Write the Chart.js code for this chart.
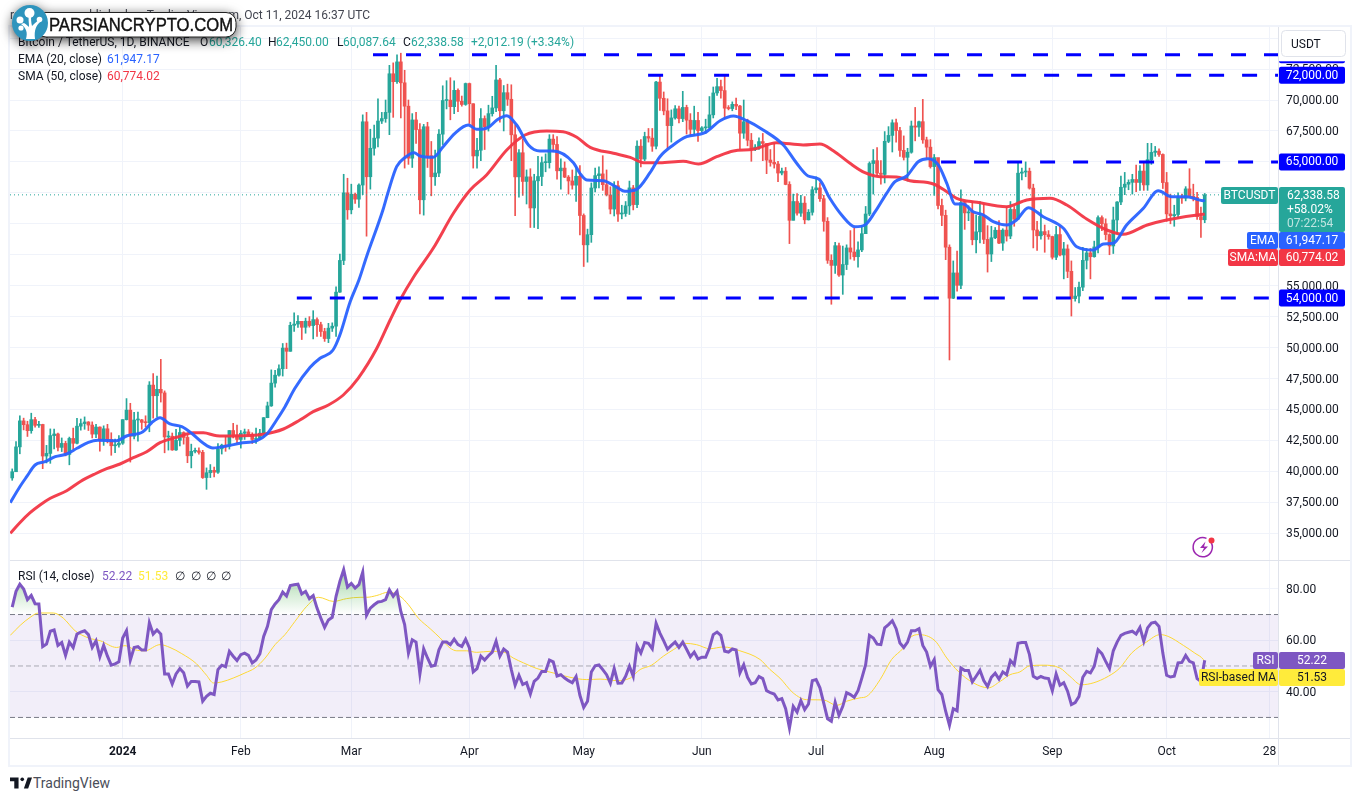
<!DOCTYPE html>
<html>
<head>
<meta charset="utf-8">
<title>BTCUSDT 1D</title>
<script src="https://cdn.jsdelivr.net/npm/chart.js@4"></script>
<style>
html, body { margin: 0; padding: 0; background: #ffffff; width: 1360px; height: 801px; overflow: hidden; }
body { font-family: Roboto, sans-serif; font-size: 12px; color: #131722; }
canvas { position: absolute; left: 0; }
#price_canvas { top: 0; }
#rsi_canvas { top: 560px; }
.line { position: absolute; background: #e0e3eb; }
.frame { position: absolute; background: #f0f3fa; }
.txt { position: absolute; white-space: nowrap; line-height: 14px; }
svg { position: absolute; }
</style>
</head>
<body>
<canvas id="price_canvas" width="1360" height="560"></canvas>
<canvas id="rsi_canvas" width="1360" height="206"></canvas>

<div class="frame" style="left:8px;top:26px;width:2px;height:741px"></div>
<div class="frame" style="left:1350px;top:26px;width:2px;height:741px"></div>
<div class="frame" style="left:8px;top:25px;width:1344px;height:2px"></div>
<div class="frame" style="left:8px;top:765px;width:1344px;height:2px"></div>
<div class="line" style="left:10px;top:560px;width:1340px;height:1px"></div>
<div class="line" style="left:10px;top:738px;width:1340px;height:1px"></div>
<div class="line" style="left:1278px;top:27px;width:1px;height:738px"></div>

<div class="txt" style="left:10px;top:8px;color:#434651">rakesh</div>
<div class="txt" style="right:990px;top:8px;color:#434651">published on TradingView.com, Oct 11, 2024 16:37 UTC</div>

<div class="txt" style="left:18px;top:35px">Bitcoin / TetherUS, 1D, BINANCE</div>
<div class="txt" style="left:200px;top:35px">O</div><div class="txt" style="left:209px;top:35px;color:#26a69a">60,326.40</div>
<div class="txt" style="left:268px;top:35px">H</div><div class="txt" style="left:276px;top:35px;color:#26a69a">62,450.00</div>
<div class="txt" style="left:337px;top:35px">L</div><div class="txt" style="left:343px;top:35px;color:#26a69a">60,087.64</div>
<div class="txt" style="left:403px;top:35px">C</div><div class="txt" style="left:411px;top:35px;color:#26a69a">62,338.58</div>
<div class="txt" style="left:471px;top:35px;color:#26a69a">+2,012.19 (+3.34%)</div>
<div class="txt" style="left:18px;top:52px">EMA (20, close)</div>
<div class="txt" style="left:107px;top:52px;color:#2962ff">61,947.17</div>
<div class="txt" style="left:18px;top:69px">SMA (50, close)</div>
<div class="txt" style="left:107px;top:69px;color:#f23645">60,774.02</div>

<div class="txt" style="left:18px;top:569px">RSI (14, close)</div>
<div class="txt" style="left:102px;top:569px;color:#7e57c2">52.22</div>
<div class="txt" style="left:138px;top:569px;color:#ffeb3b">51.53</div>
<div class="txt" style="left:175px;top:569px">∅</div>
<div class="txt" style="left:191px;top:569px">∅</div>
<div class="txt" style="left:206px;top:569px">∅</div>
<div class="txt" style="left:221px;top:569px">∅</div>

<!-- watermark -->
<svg style="left:0;top:0;filter:drop-shadow(0 3px 6px rgba(0,0,0,.75))" width="270" height="70">
  <rect x="36" y="12.5" width="200" height="24.5" rx="10" fill="#ffffff" stroke="#222222" stroke-width="1"/>
  <text x="49" y="31" font-family="Liberation Sans" font-size="18" font-weight="400" stroke="#111" stroke-width=".4" fill="#111111" textLength="184" lengthAdjust="spacingAndGlyphs">PARSIANCRYPTO.COM</text>
  <circle cx="30" cy="23" r="18" fill="#2e94bd"/>
  <path d="M26 39 C28 32 26 28 21 24 L24 23 C27 25 28 26 29 27 C29 22 28 19 29 15 L31 15 C31 19 31 22 32 26 C34 24 36 22 39 20 L40 22 C36 26 34 30 35 39 Z" fill="#ffffff"/>
  <circle cx="29.5" cy="13" r="5" fill="#ffffff"/>
  <circle cx="20" cy="20" r="3.5" fill="#ffffff"/>
  <circle cx="39.5" cy="19.5" r="2.8" fill="#ffffff"/>
  <circle cx="21" cy="28" r="2.6" fill="#ffffff"/>
</svg>

<!-- lightning badge -->
<svg style="left:1190px;top:534px" width="30" height="28">
  <path d="M21.2 8.7 A9.6 9.6 0 1 1 16.5 4.4" fill="none" stroke="#9c27b0" stroke-width="1.5"/>
  <path d="M15.5 7.5 L10 14 L14 14 L11.5 19 L18 12.5 L14 12.5 Z" fill="#9c27b0"/>
  <circle cx="21.5" cy="6.5" r="3" fill="#f23645"/>
</svg>

<!-- tradingview mark -->
<svg style="left:10px;top:776px" width="22" height="14" viewBox="0 0 36 22">
  <path d="M14 2H0v6h7v12h7V2Z" fill="#131722"/><circle cx="20" cy="5" r="3" fill="#131722"/>
  <path d="M29.7 20 36 2h-7l-6.3 18h7Z" fill="#131722"/>
</svg>
<div class="txt" style="left:33px;top:776px;font-size:14px;color:#4a4e59">TradingView</div>

<script>
// first candle is Dec 3 2023, day numbers count from Jan 1 2024
var first_day = -29;

var opens = [
    39470,39970,41980,44080,43770,43290,44180,43720,43790,41240,41450,42890,43020,41940,42260,41370,42660,42270,43650,43860,43990,43740,43010,43580,42510,43440,42580,42070,42140,
    42280,44180,44950,42840,44150,44160,43960,43930,46970,46110,46630,46340,42780,42840,41730,42510,43140,42740,41260,41620,41660,41540,39500,39890,40080,39930,41820,42120,42030,43300,42940,
    42580,43080,43190,42990,42580,42660,43090,44340,45290,47130,47770,48290,49960,49700,51800,51900,52120,51640,52130,51780,52260,51850,51300,50730,51570,51730,54480,57040,62500,
    61130,62390,61990,63130,68240,63800,66100,66920,68300,68500,69000,72120,71480,73080,71390,69500,65300,68390,67610,61940,67840,65500,63800,64100,67240,69960,69990,69460,70780,69900,69640,
    71330,69700,65480,65940,68500,67840,68900,69360,71620,69130,70590,70060,67190,63790,65740,63420,63790,61280,63470,63820,64940,64940,66840,66410,64280,64500,63770,63460,63120,63840,
    60670,58300,59120,62890,63890,64030,63160,62330,61190,63070,60790,60830,61450,62900,61550,66270,65230,67050,66920,66270,71450,70140,69120,67930,68550,69290,68500,69400,68370,67630,68350,
    67530,67750,67760,68800,70570,71080,70760,69340,69310,69650,69510,67320,68240,66750,66010,66190,66640,66490,65150,64960,64830,64100,64250,63180,60280,61800,60860,61670,60320,60930,
    62750,62900,62030,60200,57050,56640,58230,55860,56710,58050,57720,57340,57890,59200,60790,64870,65100,64090,63990,66660,67140,68160,67530,65930,65370,65780,67900,67810,68250,66780,66190,
    64620,65350,61480,60680,58110,53990,56030,55030,61710,60880,60940,58710,59350,60600,58740,57560,58870,59480,58440,59490,59010,61160,60380,64090,64180,64250,62880,59500,59030,59370,59120,
    58970,57300,59130,57480,57970,56160,53960,54160,54880,57050,57650,57340,58130,60500,60000,59130,58210,60310,61760,62950,63200,63350,63580,63340,64260,63140,65180,65770,65870,65600,
    63330,60800,60650,60750,62080,62070,62820,62220,62130,60580,60326.40
];
var closes = [
    39970,41980,44080,43770,43290,44180,43720,43790,41240,41450,42890,43020,41940,42260,41370,42660,42270,43650,43860,43990,43740,43010,43580,42510,43440,42580,42070,42140,42280,
    44180,44950,42840,44150,44160,43960,43930,46970,46110,46630,46340,42780,42840,41730,42510,43140,42740,41260,41620,41660,41540,39500,39890,40080,39930,41820,42120,42030,43300,42940,42580,
    43080,43190,42990,42580,42660,43090,44340,45290,47130,47770,48290,49960,49700,51800,51900,52120,51640,52130,51780,52260,51850,51300,50730,51570,51730,54480,57040,62500,61130,
    62390,61990,63130,68240,63800,66100,66920,68300,68500,69000,72120,71480,73080,71390,69500,65300,68390,67610,61940,67840,65500,63800,64100,67240,69960,69990,69460,70780,69900,69640,71330,
    69700,65480,65940,68500,67840,68900,69360,71620,69130,70590,70060,67190,63790,65740,63420,63790,61280,63470,63820,64940,64940,66840,66410,64280,64500,63770,63460,63120,63840,60670,
    58300,59120,62890,63890,64030,63160,62330,61190,63070,60790,60830,61450,62900,61550,66270,65230,67050,66920,66270,71450,70140,69120,67930,68550,69290,68500,69400,68370,67630,68350,67530,
    67750,67760,68800,70570,71080,70760,69340,69310,69650,69510,67320,68240,66750,66010,66190,66640,66490,65150,64960,64830,64100,64250,63180,60280,61800,60860,61670,60320,60930,62750,
    62900,62030,60200,57050,56640,58230,55860,56710,58050,57720,57340,57890,59200,60790,64870,65100,64090,63990,66660,67140,68160,67530,65930,65370,65780,67900,67810,68250,66780,66190,64620,
    65350,61480,60680,58110,53990,56030,55030,61710,60880,60940,58710,59350,60600,58740,57560,58870,59480,58440,59490,59010,61160,60380,64090,64180,64250,62880,59500,59030,59370,59120,58970,
    57300,59130,57480,57970,56160,53960,54160,54880,57050,57650,57340,58130,60500,60000,59130,58210,60310,61760,62950,63200,63350,63580,63340,64260,63140,65180,65770,65870,65600,63330,
    60800,60650,60750,62080,62070,62820,62220,62130,60580,60326.40,62338.58
];
var highs = [
    40200,42400,44490,44300,44050,44700,44370,44050,43810,42100,43430,43420,43090,42700,42430,42770,43500,44280,44230,44400,44020,44000,43800,43600,43680,43800,43120,42600,42900,
    44180,45880,45500,44770,44800,44200,44490,47250,47900,47700,49050,46500,43250,43100,43400,43600,43200,42930,42200,41880,41900,41700,40280,40550,40350,42250,42200,42850,43300,43880,43750,
    43300,43420,43380,43120,43500,43400,44350,45600,48200,48170,48600,50330,50360,52050,52800,52580,52000,52380,52500,52980,52400,52050,51560,51960,52000,54900,57560,64000,63680,
    63200,62480,63230,68800,69000,67640,67980,70100,69000,70000,72800,73000,73650,73780,72400,70000,68900,69000,68100,68030,68200,66650,65950,67620,71150,71560,71800,71550,70900,70320,71370,
    71370,69700,66900,69300,68720,69580,70300,72800,71750,71170,71280,71230,68000,66000,66850,64350,64450,64000,65450,65400,65650,67200,67200,67050,65250,65000,63900,64350,64600,64700,
    60800,59570,63300,64500,64600,65500,64350,62990,63400,63450,61500,61800,63450,63100,66700,66800,67400,67700,67700,71500,71950,70650,70100,69200,69550,69500,70700,69580,68900,69500,69000,
    67850,68450,70280,71050,71760,71600,71950,69550,69850,70150,69560,70000,68450,67300,66400,66950,67300,65700,66000,66500,65050,64500,64550,63400,62400,62450,62300,62200,61150,63000,
    63800,63300,62300,60500,57500,58500,58450,58200,58300,59450,59650,58550,59850,61400,65000,66000,66150,65100,67450,67850,68400,68450,67800,67100,66100,68300,69400,68300,70050,67000,66800,
    65600,65000,62000,61100,58300,57000,57800,62750,61800,61450,61800,60700,61800,61600,59850,59800,59700,60250,59600,61400,61800,61400,64950,64500,65000,64500,63200,60200,61150,59900,59450,
    59000,59800,59800,58500,58300,57000,54850,55300,58100,58000,58000,58600,60650,60650,60400,59200,61350,61800,63850,64150,63550,64000,64750,64700,65000,66500,66500,66250,66050,65650,
    64150,62400,61500,62500,62400,63000,64450,63200,62550,61350,62450
];
var lows = [
    39280,39970,41420,43350,42820,43080,43580,43550,40220,40680,40650,41810,41660,41600,41250,40530,41800,42210,43330,43400,43300,42700,42730,41640,42100,42300,41300,41520,41960,
    42180,44150,40750,42620,42450,43400,43600,43200,44300,44400,45600,41500,41720,41700,41700,42050,42200,40700,40280,41500,41400,39430,38550,39500,39550,39830,41400,41620,41800,42700,42300,
    41880,42580,42880,42250,42260,42570,42780,44330,45250,46800,47700,47700,48300,49700,51300,51620,50650,51160,51650,50700,50900,50900,50500,50400,51300,50900,54450,56700,60360,
    60800,61650,61320,62350,59000,62800,65550,66200,68100,68200,67200,68600,71330,68550,64500,64800,64550,66500,60800,60700,64550,62260,63100,63800,66400,69280,68400,68900,69050,69500,69570,
    68100,64500,64500,65100,66000,67490,68700,69050,68200,67500,69560,65100,60660,62150,62300,61600,59700,59700,59600,63080,64200,64500,65800,63600,62800,63730,62400,62800,61800,59100,
    56550,56900,58500,62570,62900,62700,62250,60800,60630,60200,60400,60600,60750,61120,61300,64600,65100,66600,65850,66050,69150,68800,66100,66600,68450,68150,68250,67250,67100,67120,66650,
    67400,67300,67600,68550,70380,70150,68500,69200,69130,69220,66050,66900,66300,65050,65900,66000,65100,64050,64650,64500,63400,63950,63150,58400,60300,60700,60600,60000,60300,60700,
    62500,61800,59400,56800,53500,56000,55750,54300,56300,57150,57050,56500,57750,59200,60650,62400,63900,63200,63300,66550,65800,66600,65450,65150,63450,65700,66700,67050,66500,65300,64500,
    62300,61200,59850,57100,49000,53950,54550,54750,59550,60250,58300,57650,58450,58400,56100,56950,58800,58400,57850,58600,58800,59800,60350,63550,63800,62800,58050,57850,58750,57700,58750,
    57150,57100,57400,55550,55650,52550,53750,53600,54600,56350,55550,57300,57650,59450,58700,57500,57600,59200,61550,62350,62750,62400,62600,62700,62700,62700,64800,65450,65450,62850,
    60200,60000,59800,60450,61650,61850,62150,61850,60350,58900,60087.64
];

var ema_days = [-29.5,-27,-25.2,-23,-20.4,-17.7,-14.7,-12,-9,-6.5,-1.6,1,5.3,7.6,9.8,12.4,15.5,18.1,21,23.7,27.3,30.8,35.2,37.8,40.4,42.6,45.2,49.2,51.8,55.2,57,59.7,62,64,68.3,69.6,71.9,74.1,76.5,78,81.5,84.1,87.2,90.7,92.9,96,98.2,100.8,103.4,106.5,109.5,113,118.3,120,121.8,126.1,129.7,131.8,134.9,138.4,141,144.5,148,152.8,156.8,160.3,163.8,168.1,173.4,176.9,179.9,182.8,185.6,188.7,192.2,194.8,197.5,200.5,202.7,205.8,208.8,211.4,214.1,216.3,218.5,220.6,223.2,225.9,228.5,232,234.6,237.7,241.6,246.9,250.4,254.7,257.4,260,263.5,267.9,271.8,275.3,279.3,283.6,284];
var ema_values = [37470,38760,39570,40515,40780,41185,41404,41864,42350,42510,42480,42860,43205,43930,44335,43830,43610,43076,42317,41890,42050,42270,42480,42995,44150,45225,46710,48407,49134,49805,51017,53707,55460,57342,61114,62487,64612,65355,65743,65476,65371,66228,67310,67980,67633,67795,68384,68732,67980,66365,65880,65880,64935,64079,63538,63481,62948,62625,62786,64127,65420,66365,67035,67358,68328,68708,68328,67577,66365,64887,63861,63594,62059,60710,59765,59902,60977,62463,63400,63861,65016,65258,64749,63271,61599,61599,60977,60710,60169,59902,60306,61300,60573,59636,58150,57883,58368,58424,59902,61252,62673,62188,62188,61865,61947.17];

var sma_days = [-29.5,-27,-24.3,-21.7,-19,-14.7,-11.2,-7.3,-4.2,-0.7,2.8,6.3,9.8,14.2,18.5,21.2,24.7,29,36.9,42.2,46.5,50,54,57.9,61.8,66.7,70.2,72.8,76.4,81.5,86.8,91.2,95.5,100.8,105.6,111.3,115.6,119.2,122.7,128.8,133.2,136.7,141,147.1,151.1,155.9,160.3,165.5,171.6,178.6,183,186.5,190.9,194.8,198.8,203.1,206.6,212.8,216.3,218.9,224.2,232,237.3,243.4,247.8,253,258.3,262.6,268.9,274,283.6,284];
var sma_values = [34998,35854,36662,37284,37825,38440,39166,39788,40216,40596,41105,41590,42317,42753,43125,43125,42882,42858,42995,43423,44150,44821,45362,46170,47519,49942,52228,53844,55726,58020,60848,62730,63941,65961,67173,67496,67439,66987,66179,65694,65371,64935,64935,65048,64830,65420,65880,66017,66551,66365,66446,65904,64887,64127,63804,63780,63481,63214,62592,62059,61736,61381,61922,62059,61518,60387,59499,59151,59902,60306,60767,60774.02];

var rsi_values = [
    72.9,79.0,81.8,79.9,75.8,77.4,74.2,74.1,57.5,58.5,63.5,64.0,58.0,59.1,54.1,59.3,57.2,62.4,63.2,63.7,62.2,57.2,59.8,53.6,58.0,53.8,50.3,50.8,51.6,
    60.9,63.7,52.3,57.2,57.5,56.2,56.2,66.8,62.4,64.0,62.4,46.9,46.9,43.0,46.9,49.0,47.4,42.2,44.0,44.0,43.8,36.3,38.2,39.4,38.9,48.6,50.3,49.7,55.7,53.8,52.1,
    54.4,55.0,54.1,51.2,52.3,54.7,61.5,65.4,71.9,74.1,75.8,78.7,77.2,81.3,81.6,81.8,78.0,79.0,76.2,77.4,72.5,68.6,65.0,67.9,68.9,77.1,82.9,87.4,80.7,
    82.1,80.3,81.6,86.5,69.7,72.5,73.8,74.9,75.1,75.8,79.6,77.1,79.0,71.2,66.1,55.0,60.2,59.3,46.9,56.7,53.1,49.9,50.3,56.3,59.3,59.3,58.3,60.4,58.3,57.6,60.4,
    57.0,47.7,49.0,53.8,52.3,54.0,55.4,59.6,53.8,56.6,55.4,48.6,42.5,46.4,42.8,43.5,39.1,44.0,45.3,47.9,47.9,52.3,51.6,46.1,46.6,45.3,44.3,43.5,45.9,38.6,
    33.9,36.3,47.7,50.1,50.4,48.6,46.6,43.3,49.0,43.3,43.4,46.0,49.9,46.0,57.8,55.0,59.1,58.8,56.7,66.6,62.8,59.8,56.5,58.0,59.3,57.2,59.3,56.5,53.6,55.4,52.7,
    53.4,53.4,57.0,62.2,63.2,61.9,55.7,55.4,56.6,56.2,47.3,50.5,45.6,43.0,43.5,45.9,45.1,40.4,39.6,39.1,36.8,37.3,33.4,25.9,34.3,32.1,36.5,33.0,35.2,44.3,
    44.7,41.5,35.6,29.5,28.5,35.9,30.8,34.3,39.6,38.9,37.8,40.4,45.3,50.5,61.9,60.9,58.5,58.3,64.8,66.1,67.6,64.5,58.9,57.2,59.3,63.7,63.7,64.5,58.0,55.4,49.9,
    52.5,40.8,38.9,32.4,26.9,33.4,32.6,49.2,48.2,48.2,43.8,46.0,48.3,44.3,42.0,45.6,47.2,44.9,47.7,46.6,52.1,50.5,58.8,59.1,59.1,54.4,46.0,45.1,45.9,45.3,45.1,
    40.4,46.9,42.5,43.5,40.2,35.0,35.8,38.2,45.6,47.9,47.3,49.9,56.3,54.8,51.8,49.0,55.9,59.3,61.9,62.7,63.1,63.5,62.4,65.0,59.6,64.8,66.7,67.0,65.4,55.0,
    46.4,45.7,46.0,51.2,51.4,54.1,51.8,51.2,45.1,44.0,52.22
];
var rsi_ma_days = [-29.5,-26.9,-24.3,-22.1,-18.2,-15.6,-12.5,-9,-5.9,-1.6,0.6,3.2,5.8,9.8,12.4,15.5,19.4,22,23.8,26,29,32.1,34.7,37.4,40,42.6,45.2,48.3,51.4,55.3,58.8,62.3,64,66.7,69.7,72.8,75,77.6,80.7,83.3,85.9,87.7,90.3,92.9,96.4,100,102.5,105.2,108.7,113,117.4,121.8,125.3,129.7,133.2,135.8,138.8,141.9,144.5,147.6,150.6,154.1,157.7,162,167.3,169.9,172.5,176,179.5,183.9,187.4,190,193.5,195.3,198.8,201.8,204.9,206.6,208.8,213.2,216.3,219.3,223.3,227.2,230.3,232.9,235.5,238.1,241.6,246,248.6,251.6,254.7,258.7,261.7,264.8,268.7,272.3,274.4,278.4,281.4,283.7,284];
var rsi_ma_values = [61.9,65.8,68.9,70.6,70.6,68.6,63.7,60.9,59.8,57.2,57.9,56.3,55.9,58.3,57.2,54.8,50.8,46.4,43.4,43.8,45.3,47.3,49.2,53.1,58.3,62.2,67.3,73.2,76.7,75.1,76.2,76.7,76.7,77.4,78.7,77.1,73.8,68.6,64.5,60.9,57.0,55.9,55.9,55.3,55.7,55.4,53.1,51.2,49.0,47.3,45.6,44.7,44.9,44.3,45.3,48.6,50.3,53.8,56.3,58.8,58.3,56.7,57.4,55.9,52.5,48.6,45.3,39.5,36.9,36.8,34.7,36.3,37.6,38.2,44.7,52.5,57.0,60.9,62.2,59.8,53.1,47.9,43.4,41.5,44.0,46.6,47.7,50.1,50.3,49.2,46.0,42.7,43.4,46.0,49.2,55.0,59.3,62.2,61.5,58.0,55.0,52.4,51.53];

var price_ticks = [35000,37500,40000,42500,45000,47500,50000,52500,55000,57500,60000,62500,65000,67500,70000,72500,75000];
var rsi_ticks = [40,60,80];
var time_tick_days = [0,31,60,91,121,152,182,213,244,274,301];
var time_tick_labels = ['2024','Feb','Mar','Apr','May','Jun','Jul','Aug','Sep','Oct','28'];

// levels drawn by the author: price, first day, last day
var level_prices = [73650,72000,65000,54000];
var level_starts = [65.7,137.9,214.8,45.7];
var level_ends = [303.23,303.23,303.23,300.9];

var last_close = 62338.58;
var last_day_text = ['62,338.58','+58.02%','07:22:54'];

var COLOR_UP = '#26a69a', COLOR_DOWN = '#ef5350', COLOR_GRID = '#f0f3fa', COLOR_LEVEL = '#0000ff';
var FONT = 'Roboto, sans-serif';
var X_MIN = -29.58, X_MAX = 303.23;

function to_points(xs, ys) {
    return xs.map(function(x, i) { return {x: x, y: ys[i]}; });
}

function time_scale(show_labels) {
    return {
        type: 'linear',
        min: X_MIN,
        max: X_MAX,
        offset: false,
        border: {display: false},
        grid: {color: COLOR_GRID, drawTicks: false, offset: false},
        afterBuildTicks: function(scale) {
            scale.ticks = time_tick_days.map(function(d) { return {value: d}; });
        },
        afterFit: function(scale) {
            scale.height = show_labels ? 28 : 0;
            scale.paddingLeft = 0;
            scale.paddingRight = 0;
        },
        ticks: {
            display: show_labels,
            autoSkip: false,
            maxRotation: 0,
            padding: 7,
            color: '#131722',
            font: function(ctx) {
                return {family: FONT, size: 12, weight: ctx.tick && ctx.tick.value === 0 ? 'bold' : 'normal'};
            },
            callback: function(val) { return time_tick_labels[time_tick_days.indexOf(val)]; }
        }
    };
}

function value_scale(min, max, ticks, digits) {
    return {
        position: 'right',
        min: min,
        max: max,
        border: {display: false},
        grid: {color: COLOR_GRID, drawTicks: false},
        afterBuildTicks: function(scale) {
            scale.ticks = ticks.map(function(v) { return {value: v}; });
        },
        // no room kept for labels hanging over the pane edges
        afterFit: function(scale) {
            scale.width = 72;
            scale.paddingTop = 0;
            scale.paddingBottom = 0;
        },
        ticks: {
            padding: 8,
            labelOffset: 1,
            color: '#131722',
            font: {family: FONT, size: 12},
            callback: function(val) {
                return val.toLocaleString('en-US', {minimumFractionDigits: digits, maximumFractionDigits: digits});
            }
        }
    };
}

function draw_tag(ctx, x, y, w, h, color, text, text_color) {
    ctx.fillStyle = color;
    ctx.beginPath();
    ctx.roundRect(x, y, w, h, 2);
    ctx.fill();
    if (text) {
        ctx.fillStyle = text_color || '#ffffff';
        ctx.font = '12px ' + FONT;
        ctx.textAlign = 'center';
        ctx.textBaseline = 'middle';
        ctx.fillText(text, x + w / 2, y + h / 2 + 0.5);
    }
}

var price_tags = {
    id: 'price_tags',
    afterDraw: function(chart) {
        var ctx = chart.ctx, y_scale = chart.scales.y;
        ctx.save();
        level_prices.forEach(function(p) {
            var y = y_scale.getPixelForValue(p);
            var text = p.toLocaleString('en-US', {minimumFractionDigits: 2});
            draw_tag(ctx, 1279, y - 8.5, 66, 17, COLOR_LEVEL, text);
        });
        // the currency button covers the top of the axis
        ctx.fillStyle = '#ffffff';
        ctx.fillRect(1279, 27, 71, 34.3);
        ctx.strokeStyle = '#e0e3eb';
        ctx.lineWidth = 1;
        ctx.beginPath();
        ctx.roundRect(1281.5, 30.5, 64, 26, 4);
        ctx.stroke();
        ctx.fillStyle = '#131722';
        ctx.font = '12px ' + FONT;
        ctx.textAlign = 'left';
        ctx.textBaseline = 'middle';
        ctx.fillText('USDT', 1291, 44.5);

        draw_tag(ctx, 1221, 187, 57, 17, COLOR_UP, 'BTCUSDT');
        draw_tag(ctx, 1279, 187, 66, 45, COLOR_UP);
        ctx.font = '12px ' + FONT;
        ctx.textAlign = 'left';
        ctx.fillStyle = '#ffffff';
        ctx.fillText(last_day_text[0], 1287, 195.5);
        ctx.fillText(last_day_text[1], 1287, 209.5);
        ctx.fillStyle = 'rgba(255,255,255,0.7)';
        ctx.fillText(last_day_text[2], 1287, 223.5);

        draw_tag(ctx, 1247, 232, 31, 17, '#2962ff', 'EMA');
        draw_tag(ctx, 1279, 232, 66, 17, '#2962ff', '61,947.17');
        draw_tag(ctx, 1228, 249, 50, 17, '#f23645', 'SMA:MA');
        draw_tag(ctx, 1279, 249, 66, 17, '#f23645', '60,774.02');
        ctx.restore();
    }
};

var rsi_tags = {
    id: 'rsi_tags',
    afterDraw: function(chart) {
        var ctx = chart.ctx;
        ctx.save();
        draw_tag(ctx, 1253, 92, 25, 17, '#7e57c2', 'RSI');
        draw_tag(ctx, 1279, 92, 66, 17, '#7e57c2', '52.22');
        draw_tag(ctx, 1199, 109, 79, 17, '#ffeb3b', 'RSI-based MA', '#131722');
        draw_tag(ctx, 1279, 109, 66, 17, '#ffeb3b', '51.53', '#131722');
        ctx.restore();
    }
};

function create_price_chart(element) {
    var candle_days = closes.map(function(c, i) { return first_day + i; });
    var candle_colors = closes.map(function(c, i) { return c >= opens[i] ? COLOR_UP : COLOR_DOWN; });
    var datasets = [
        {
            label: 'wicks',
            data: candle_days.map(function(d, i) { return {x: d, y: [lows[i], highs[i]]}; }),
            backgroundColor: candle_colors,
            barThickness: 1,
            grouped: false,
            order: 7
        },
        {
            label: 'bodies',
            data: candle_days.map(function(d, i) { return {x: d, y: [opens[i], closes[i]]}; }),
            backgroundColor: candle_colors,
            barThickness: 3,
            minBarLength: 1,
            grouped: false,
            order: 6
        },
        {
            type: 'line',
            label: 'SMA',
            data: to_points(sma_days, sma_values),
            borderColor: 'rgba(242,54,69,0.95)',
            borderWidth: 3,
            pointRadius: 0,
            cubicInterpolationMode: 'monotone',
            order: 4
        },
        {
            type: 'line',
            label: 'EMA',
            data: to_points(ema_days, ema_values),
            borderColor: 'rgba(41,98,255,0.95)',
            borderWidth: 3,
            pointRadius: 0,
            cubicInterpolationMode: 'monotone',
            order: 3
        },
        {
            type: 'line',
            label: 'last',
            data: [{x: X_MIN, y: last_close}, {x: 288.3, y: last_close}],
            borderColor: COLOR_UP,
            borderWidth: 1,
            borderDash: [1, 3],
            pointRadius: 0,
            order: 5
        }
    ];
    level_prices.forEach(function(p, i) {
        datasets.push({
            type: 'line',
            label: 'level ' + p,
            data: [{x: level_starts[i], y: p}, {x: level_ends[i], y: p}],
            borderColor: COLOR_LEVEL,
            borderWidth: 3,
            borderDash: [15, 18],
            pointRadius: 0,
            order: 2
        });
    });

    new Chart(document.getElementById(element), {
        type: 'bar',
        data: {datasets: datasets},
        plugins: [price_tags],
        options: {
            responsive: false,
            animation: false,
            devicePixelRatio: 1,
            layout: {padding: {left: 10, right: 10, top: 26, bottom: 0}},
            plugins: {legend: {display: false}, tooltip: {enabled: false}},
            scales: {
                x: time_scale(false),
                y: value_scale(32841, 75978, price_ticks, 2)
            }
        }
    });
}

function create_rsi_chart(element) {
    var canvas = document.getElementById(element);
    var overbought = canvas.getContext('2d').createLinearGradient(0, 8, 0, 54);
    overbought.addColorStop(0, 'rgba(76,175,80,0.55)');
    overbought.addColorStop(1, 'rgba(76,175,80,0)');

    var rsi_days = rsi_values.map(function(v, i) { return first_day + i; });
    var span = [X_MIN, X_MAX];
    new Chart(canvas, {
        type: 'line',
        data: {
            datasets: [
                {
                    label: 'upper',
                    data: [{x: span[0], y: 70}, {x: span[1], y: 70}],
                    borderColor: '#787b86',
                    borderWidth: 1,
                    borderDash: [5, 3],
                    pointRadius: 0,
                    fill: '+1',
                    backgroundColor: 'rgba(126,87,194,0.1)',
                    order: 5
                },
                {
                    label: 'lower',
                    data: [{x: span[0], y: 30}, {x: span[1], y: 30}],
                    borderColor: '#787b86',
                    borderWidth: 1,
                    borderDash: [5, 3],
                    pointRadius: 0,
                    order: 4
                },
                {
                    label: 'middle',
                    data: [{x: span[0], y: 50}, {x: span[1], y: 50}],
                    borderColor: 'rgba(120,123,134,0.6)',
                    borderWidth: 1,
                    borderDash: [5, 3],
                    pointRadius: 0,
                    order: 3
                },
                {
                    label: 'RSI-based MA',
                    data: to_points(rsi_ma_days, rsi_ma_values),
                    borderColor: '#fdd835',
                    borderWidth: 1,
                    pointRadius: 0,
                    cubicInterpolationMode: 'monotone',
                    order: 2
                },
                {
                    label: 'RSI',
                    data: to_points(rsi_days, rsi_values),
                    borderColor: '#7e57c2',
                    borderWidth: 3,
                    pointRadius: 0,
                    fill: {target: {value: 70}, above: overbought, below: 'rgba(0,0,0,0)'},
                    order: 1
                }
            ]
        },
        plugins: [rsi_tags],
        options: {
            responsive: false,
            animation: false,
            devicePixelRatio: 1,
            layout: {padding: {left: 10, right: 10, top: 0, bottom: 0}},
            plugins: {legend: {display: false}, tooltip: {enabled: false}},
            scales: {
                x: time_scale(true),
                y: value_scale(22, 91.2, rsi_ticks, 2)
            }
        }
    });
}

create_price_chart('price_canvas');
create_rsi_chart('rsi_canvas');
</script>
</body>
</html>
